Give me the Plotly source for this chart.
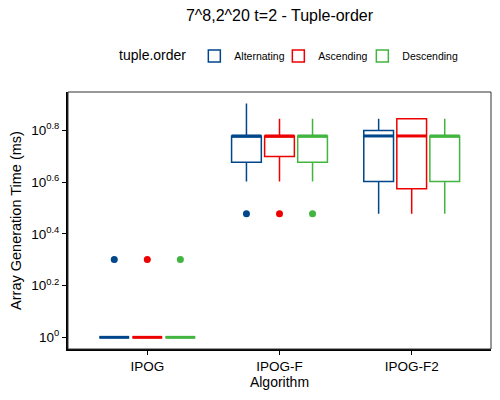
import numpy as np
import plotly.graph_objects as go

# data (ms)
algorithms = ["IPOG", "IPOG-F", "IPOG-F2"]
orders = ["Alternating", "Ascending", "Descending"]
colors = ["#00468B", "#ED0000", "#42B540"]

lower = {
    "Alternating": [1, 4, 3],
    "Ascending": [1, 4, 3],
    "Descending": [1, 4, 3],
}
q1 = {
    "Alternating": [1, 4.75, 4],
    "Ascending": [1, 5, 3.75],
    "Descending": [1, 4.75, 4],
}
median = {
    "Alternating": [1, 6, 6],
    "Ascending": [1, 6, 6],
    "Descending": [1, 6, 6],
}
q3 = {
    "Alternating": [1, 6, 6.3],
    "Ascending": [1, 6, 7],
    "Descending": [1, 6, 6],
}
upper = {
    "Alternating": [1, 8, 7],
    "Ascending": [1, 7, 7],
    "Descending": [1, 7, 7],
}
outliers = {
    "Alternating": [2, 3, None],
    "Ascending": [2, 3, None],
    "Descending": [2, 3, None],
}

tick_exps = [0, 0.2, 0.4, 0.6, 0.8]

dodge = 0.25
box_w = dodge * 0.9
pos = np.arange(len(algorithms))

fig = go.Figure()

for k, (order, col) in enumerate(zip(orders, colors)):
    xs = pos + (k - 1) * dodge
    fig.add_trace(go.Box(
        x=xs, q1=q1[order], median=median[order], q3=q3[order],
        lowerfence=lower[order], upperfence=upper[order],
        name=order, width=box_w, whiskerwidth=0,
        line=dict(color=col, width=1.5), fillcolor="white",
        boxpoints=False, hoverinfo="skip", legendrank=k,
    ))
    # thicker median line, like ggplot
    mx, my = [], []
    for x, m in zip(xs, median[order]):
        mx += [x - box_w / 2, x + box_w / 2, None]
        my += [m, m, None]
    fig.add_trace(go.Scatter(x=mx, y=my, mode="lines", line=dict(color=col, width=3),
                             showlegend=False, hoverinfo="skip"))
    ox = [x for x, o in zip(xs, outliers[order]) if o is not None]
    oy = [o for o in outliers[order] if o is not None]
    fig.add_trace(go.Scatter(x=ox, y=oy, mode="markers", marker=dict(color=col, size=7),
                             showlegend=False, hoverinfo="skip"))

# empty legend slot so the last label isn't clipped by the fixed entry width
fig.add_trace(go.Scatter(x=[None], y=[None], mode="lines", name=" ",
                         line=dict(color="rgba(0,0,0,0)"), hoverinfo="skip", legendrank=10))

# page body has an 8px margin, so the figure is a bit smaller than the window
fig.update_layout(
    width=492, height=384,
    margin=dict(l=60, r=8.5, t=84, b=43, autoexpand=False),
    paper_bgcolor="white", plot_bgcolor="white",
    font=dict(family="Liberation Sans, Arial, sans-serif", color="black", size=13),
    title=dict(text="7^8,2^20 t=2 - Tuple-order", x=0.5, xref="paper", xanchor="center",
               y=0.98, yanchor="middle", font=dict(size=16)),
    legend=dict(orientation="h", x=0.116, xanchor="left",
                yref="container", y=0.875, yanchor="middle",
                title=dict(text="tuple.order", font=dict(size=14)),
                font=dict(size=10.5), itemwidth=30,
                entrywidth=39, entrywidthmode="pixels"),
    showlegend=True,
    shapes=[dict(type="rect", xref="paper", yref="paper", x0=0, x1=1, y0=0, y1=1,
                 line=dict(color="#333333", width=1), layer="above")],
)
fig.update_xaxes(
    range=[-0.6, 2.6], tickvals=pos, ticktext=algorithms, tickfont=dict(size=13.5),
    showgrid=False, zeroline=False, showline=True,
    linecolor="black", linewidth=2, ticks="outside", ticklen=4, tickcolor="black",
    title=dict(text="Algorithm", standoff=3, font=dict(size=14)),
)
fig.update_yaxes(
    type="log", range=[-0.045, 0.948],
    tickvals=[10 ** e for e in tick_exps],
    ticktext=[f"10<sup>{e:g}</sup>" for e in tick_exps], tickfont=dict(size=13.5),
    showgrid=False, zeroline=False, showline=True,
    linecolor="black", linewidth=2, ticks="outside", ticklen=4, tickcolor="black",
    title=dict(text="Array Generation Time (ms)", standoff=12, font=dict(size=14.5)),
)

fig.write_html("out.html")
